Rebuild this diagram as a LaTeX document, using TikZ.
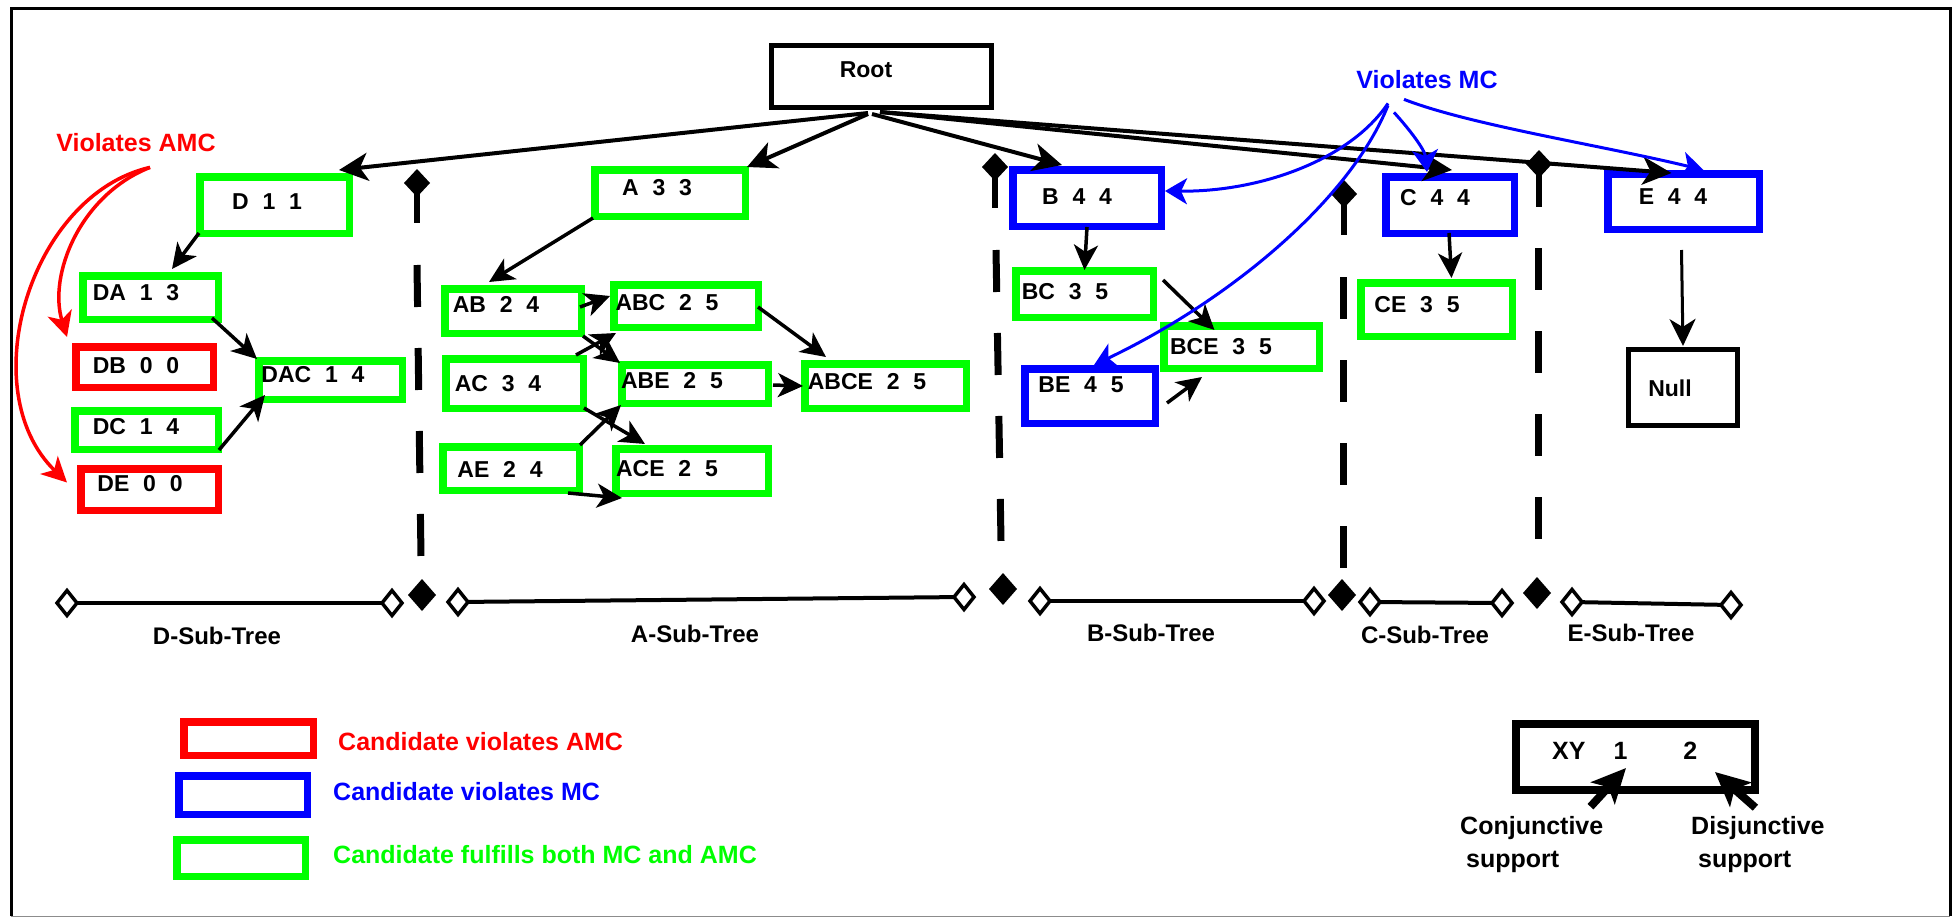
\documentclass[tikz,border=0pt]{standalone}
\usepackage{fontspec}
\setmainfont{Liberation Sans}
\usetikzlibrary{arrows.meta,calc}
\definecolor{cgreen}{RGB}{0,255,0}
\definecolor{cred}{RGB}{255,0,0}
\definecolor{cblue}{RGB}{0,0,255}
\newcommand\gp{\hspace{0.6em}}
\newcommand\bx[7]{\node[#1, line width=#7pt, minimum width={(#5-#3-#7)*1pt}, minimum height={(#6-#4-#7)*1pt}] (#2) at ({(#3+#5)/2},{(#4+#6)/2}) {};}
\newcommand\fdia[4]{\fill[shift={(#1,#2)}] (-#3/2,0) -- (0,-#4/2) -- (#3/2,0) -- (0,#4/2) -- cycle;}
\newcommand\hdia[2]{\draw[line width=3.5pt, fill=white, shift={(#1,#2)}] (-10,0) -- (0,-12.5) -- (10,0) -- (0,12.5) -- cycle;}
\tikzset{
 gbox/.style={draw=cgreen, inner sep=0pt},
 rbox/.style={draw=cred, inner sep=0pt},
 bbox/.style={draw=cblue, inner sep=0pt},
 kbox/.style={draw=black, inner sep=0pt},
 lbl/.style={inner sep=0pt, font=\fontsize{23}{27}\selectfont\bfseries},
 lblbig/.style={inner sep=0pt, font=\fontsize{25}{30}\selectfont\bfseries},
 lblsub/.style={inner sep=0pt, font=\fontsize{24}{28}\selectfont\bfseries},
 arr/.style={line width=3.5pt, -{Stealth[length=25pt,width=24pt,inset=7pt]}},
 rootarr/.style={line width=4pt, -{Stealth[length=29pt,width=28pt,inset=8pt]}},
 barr/.style={cblue, line width=3pt, -{Stealth[length=22pt,width=26pt,inset=6pt]}},
 redarr/.style={cred, line width=3.5pt, -{Stealth[length=25pt,width=25pt,inset=7pt]}},
 xyarr/.style={line width=8pt, -{Stealth[length=34pt,width=32pt,inset=8pt]}},
 nullarr/.style={line width=3pt, -{Stealth[length=27pt,width=26pt,inset=8pt]}},
 sepdash/.style={line width=7pt, dash pattern=on 42pt off 41pt},
 sepstub/.style={line width=6pt},
 subline/.style={line width=4pt},
}
\begin{document}
\begin{tikzpicture}[x=1pt,y=-1pt]
\useasboundingbox (0,0) rectangle (1960,918);
% frame
\draw[line width=3pt] (11,916) -- (11,8) -- (1950,8) -- (1950,916);
\draw[line width=1.5pt, black!45] (11,916.5) -- (1950,916.5);

% boxes
\bx{kbox}{root}{769}{43}{994}{110}{5}
\bx{gbox}{D}{196}{173}{353}{237}{7.5}
\bx{gbox}{A}{591}{166}{749}{220}{7.5}
\bx{bbox}{B}{1009}{166}{1165}{230}{7.5}
\bx{bbox}{C}{1382}{173}{1518}{237}{7.5}
\bx{bbox}{E}{1604}{170}{1763}{233}{7.5}
\bx{gbox}{DA}{79}{272}{222}{323}{7.5}
\bx{rbox}{DB}{72}{343}{217}{391}{7.5}
\bx{gbox}{DAC}{255}{357}{406}{403}{7.5}
\bx{gbox}{DC}{71}{407}{222}{453}{7.5}
\bx{rbox}{DE}{77}{465}{222}{514}{7.5}
\bx{gbox}{AB}{441}{285}{585}{337}{7.5}
\bx{gbox}{ABC}{610}{281}{762}{331}{7.5}
\bx{gbox}{AC}{442}{355}{587}{412}{7.5}
\bx{gbox}{ABE}{618}{361}{772}{407}{7.5}
\bx{gbox}{ABCE}{801}{360}{970}{412}{7.5}
\bx{gbox}{AE}{439}{443}{583}{494}{7.5}
\bx{gbox}{ACE}{612}{445}{772}{497}{7.5}
\bx{gbox}{BC}{1012}{267}{1157}{321}{7.5}
\bx{gbox}{BCE}{1160}{322}{1323}{372}{7.5}
\bx{bbox}{BE}{1021}{365}{1159}{427}{7.5}
\bx{gbox}{CE}{1357}{279}{1516}{340}{7.5}
\bx{kbox}{null}{1626}{347}{1740}{428}{5}
\bx{kbox}{xy}{1512}{720}{1759}{794}{8}
% legend boxes
\bx{rbox}{lr}{180}{718}{317}{759}{7.5}
\bx{bbox}{lb}{175}{772}{311}{818}{7.5}
\bx{gbox}{lg}{173}{836}{309}{880}{7.5}

% box texts
\node[lbl] (troot) at (866,70) {Root};
\node[lbl] (tD) at (267,202) {D\gp1\gp1};
\node[lbl] (tA) at (657,188) {A\gp3\gp3};
\node[lbl] (tB) at (1077,197) {B\gp4\gp4};
\node[lbl] (tC) at (1435,198) {C\gp4\gp4};
\node[lbl] (tE) at (1673,197) {E\gp4\gp4};
\node[lbl] (tDA) at (136,293) {DA\gp1\gp3};
\node[lbl] (tDB) at (136,366) {DB\gp0\gp0};
\node[lbl] (tDAC) at (313,375) {DAC\gp1\gp4};
\node[lbl] (tDC) at (136,427) {DC\gp1\gp4};
\node[lbl] (tDE) at (140,484) {DE\gp0\gp0};
\node[lbl] (tAB) at (496,304) {AB\gp2\gp4};
\node[lbl] (tABC) at (667,303) {ABC\gp2\gp5};
\node[lbl] (tAC) at (498,384) {AC\gp3\gp4};
\node[lbl] (tABE) at (672,381) {ABE\gp2\gp5};
\node[lbl] (tABCE) at (867,382) {ABCE\gp2\gp5};
\node[lbl] (tAE) at (500,469) {AE\gp2\gp4};
\node[lbl] (tACE) at (667,469) {ACE\gp2\gp5};
\node[lbl] (tBC) at (1065,292) {BC\gp3\gp5};
\node[lbl] (tBCE) at (1221,347) {BCE\gp3\gp5};
\node[lbl] (tBE) at (1081,385) {BE\gp4\gp5};
\node[lbl] (tCE) at (1417,305) {CE\gp3\gp5};
\node[lbl] (tnull) at (1670,388) {Null};
\node[lblbig, anchor=west] (txy) at (1552,751) {XY\hspace{28pt}1\hspace{56pt}2};

% labels
\node[lblbig, text=cred] (vamc) at (136,143) {Violates AMC};
\node[lblbig, text=cblue] (vmc) at (1427,80) {Violates MC};
\node[lblbig, text=cred, anchor=west] (tlr) at (338,742) {Candidate violates AMC};
\node[lblbig, text=cblue, anchor=west] (tlb) at (333,792) {Candidate violates MC};
\node[lblbig, text=cgreen, anchor=west] (tlg) at (333,855) {Candidate fulfills both MC and AMC};
\node[lblbig, anchor=base west] (conj) at (1460,834) {Conjunctive};
\node[lblbig, anchor=base west] (conjs) at (1466,867) {support};
\node[lblbig, anchor=base west] (disj) at (1691,834) {Disjunctive};
\node[lblbig, anchor=base west] (disjs) at (1698,867) {support};

% separators
\fdia{417}{183}{26}{28}
\draw[sepstub] (417,183) -- (417,223);
\draw[sepdash] (417,265) -- (421,557);
\fdia{995}{167}{26}{28}
\draw[sepstub] (995,167) -- (995,208);
\draw[sepdash] (996,250) -- (1001,541);
\fdia{1344}{194}{26}{28}
\draw[sepstub] (1344,194) -- (1344,235);
\draw[sepdash] (1343,277) -- (1343,568);
\fdia{1539}{164}{26}{28}
\draw[sepstub] (1539,164) -- (1539,207);
\draw[sepdash] (1538,248) -- (1538,539);

% bottom sub-tree lines
\draw[subline] (67,603) -- (392,603);
\draw[subline] (458,602) -- (964,597);
\draw[subline] (1040,601) -- (1314,601);
\draw[subline] (1370,602) -- (1502,603);
\draw[subline] (1572,602) -- (1731,605);
\hdia{67}{603} \hdia{392}{603}
\hdia{458}{602} \hdia{964}{597}
\hdia{1040}{601} \hdia{1314}{601}
\hdia{1370}{602} \hdia{1502}{603}
\hdia{1572}{602} \hdia{1731}{605}
\fdia{422}{595}{28}{32}
\fdia{1003}{589}{28}{32}
\fdia{1342}{595}{28}{32}
\fdia{1537}{593}{28}{32}
\node[lblsub] (sD) at (217,636) {D-Sub-Tree};
\node[lblsub] (sA) at (695,634) {A-Sub-Tree};
\node[lblsub] (sB) at (1151,633) {B-Sub-Tree};
\node[lblsub] (sC) at (1425,635) {C-Sub-Tree};
\node[lblsub] (sE) at (1631,633) {E-Sub-Tree};

% root arrows
\draw[rootarr] ($(root.south)+(-13.5,3)$) -- ($(D.north east)+(-14,-3)$);
\draw[rootarr] ($(root.south)+(-13.5,4)$) -- ($(A.north east)+(-2,1)$);
\draw[rootarr] ($(root.south)+(-9.5,4)$) -- ($(B.north)+(-25,-1)$);
\draw[rootarr] ($(root.south)+(-1.5,2)$) -- ($(C.north)+(2,-3)$);
\draw[rootarr] ($(root.south)+(-1.5,2)$) -- ($(E.north)+(-12,3)$);

% D subtree
\draw[arr] ($(D.south west)+(3,-4)$) -- ($(DA.north)+(21.5,-3)$);
\draw[arr] ($(DA.south east)+(-10,-5)$) -- ($(DAC.north west)+(2,2)$);
\draw[arr] ($(DC.south east)+(-3,-3)$) -- ($(DAC.south west)+(10,-8)$);

% A subtree
\draw[arr] ($(A.south west)+(2,-2)$) -- ($(AB.north)+(-24,-3)$);
\draw[arr] ($(AB.east)+(-5,-4)$) -- ($(ABC.west)+(0,-10)$);
\draw[arr] ($(ABC.east)+(-4,1)$) -- ($(ABCE.north west)+(25,-3)$);
\draw[arr] ($(AB.south east)+(-2,-1)$) -- ($(ABE.north west)+(2,2)$);
\draw[arr] ($(AC.north east)+(-11,0)$) -- ($(ABC.south west)+(6,2)$);
\draw[arr] ($(AC.south east)+(-3,-4)$) -- ($(ACE.north west)+(33,-1)$);
\draw[arr] ($(AE.north east)+(-3,2)$) -- ($(ABE.south west)+(3,-2)$);
\draw[arr] ($(AE.south east)+(-15,-1)$) -- ($(ACE.south west)+(10,1)$);
\draw[arr] ($(ABE.east)+(1,1)$) -- ($(ABCE.west)+(2,0)$);

% B, C, E subtrees
\draw[arr] ($(B.south)+(0,-3)$) -- ($(BC.north)+(0,3)$);
\draw[arr] ($(BC.north east)+(6,13)$) -- ($(BCE.north)+(-27,8)$);
\draw[arr] ($(BE.east)+(8,7)$) -- ($(BCE.south west)+(42,5)$);
\draw[arr] ($(C.south)+(-1,-4)$) -- ($(CE.north)+(15,-1)$);
\draw[nullarr] ($(E.south)+(-2,17)$) -- ($(null.north)+(0,-1)$);

% red curves
\draw[redarr] ($(vamc.south)+(14,15)$) .. controls (80,195) and (48,275) .. ($(DB.north west)+(-5,-6)$);
\draw[redarr] ($(vamc.south)+(14,15)$) .. controls (30,195) and (-28,390) .. ($(DE.west)+(-10,-7)$);

% blue curves
\draw[barr] ($(vmc.south)+(-39,14)$) .. controls (1350,160) and (1260,192) .. ($(B.east)+(0,-7)$);
\draw[barr] ($(vmc.south)+(-39,16)$) .. controls (1350,200) and (1230,300) .. ($(BE.north)+(4,0)$);
\draw[barr] ($(vmc.south)+(-33,23)$) .. controls (1410,130) and (1425,150) .. ($(C.north)+(-23,-1)$);
\draw[barr] ($(vmc.south)+(-23,10)$) .. controls (1470,125) and (1600,145) .. ($(E.north)+(20,0)$);

% XY arrows
\draw[xyarr] ($(conj.north east)+(-13,-9)$) -- ($(xy.south west)+(114,-26)$);
\draw[xyarr] ($(disj.north)+(-2.5,-8)$) -- ($(xy.south east)+(-44,-22)$);
\end{tikzpicture}
\end{document}
